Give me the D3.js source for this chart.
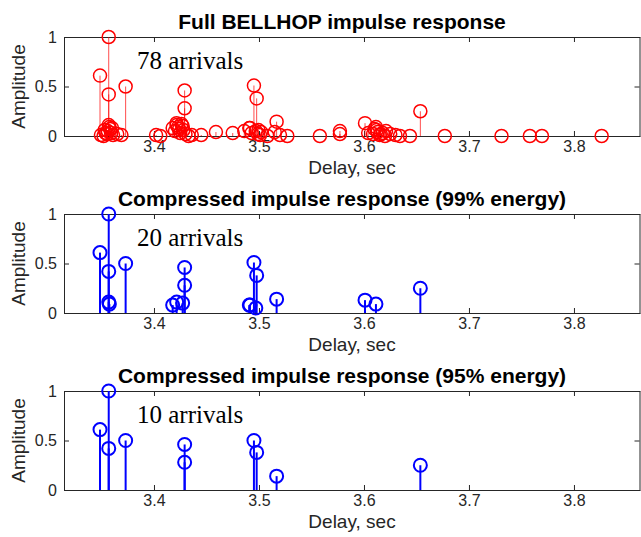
<!DOCTYPE html>
<html><head><meta charset="utf-8">
<script src="https://cdn.jsdelivr.net/npm/d3@7"></script>
<style>body{margin:0;background:#fff}svg{display:block}</style>
</head><body>
<script>
// ---- data ----
const panelTitles = ["Full BELLHOP impulse response",
  "Compressed impulse response (99% energy)",
  "Compressed impulse response (95% energy)"];
const panelNotes = ["78 arrivals", "20 arrivals", "10 arrivals"];
const xTicks = [3.4, 3.5, 3.6, 3.7, 3.8];
const yTicks = [0, 0.5, 1];
const xLabel = "Delay, sec";
const yLabel = "Amplitude";

// full response (78 arrivals): delay, amplitude
const fullDelay = [
  3.3486,3.3569,3.3569,3.3730,3.3569,3.3575,3.3582,3.3560,3.3592,3.3555,3.3495,3.3520,3.3610,3.3650,3.3690,3.3540,3.3530,3.3600,
  3.4020,3.4060,3.4178,3.4216,3.4273,3.4292,3.4292,3.4200,3.4250,3.4240,3.4300,3.4330,3.4360,3.4450,3.4590,3.4230,3.4215,3.4280,3.4262,
  3.4750,3.4860,3.4908,3.4952,3.4978,3.4914,3.4970,3.4990,3.5010,3.5080,3.5168,3.5150,3.5200,3.5270,3.4930,3.4995,3.5020,
  3.5580,3.5771,3.5771,3.6010,3.6040,3.6086,3.6114,3.6120,3.6130,3.6150,3.6180,3.6210,3.6250,3.6300,3.6343,3.6438,3.6537,3.6100,3.6200,3.6160,
  3.6770,3.7310,3.7580,3.7695,3.8264];
const fullAmp = [
  0.61,1.00,0.42,0.50,0.11,0.09,0.07,0.05,0.03,0.02,0.01,0.00,0.01,0.02,0.01,0.03,0.06,0.08,
  0.01,0.00,0.08,0.11,0.10,0.46,0.28,0.05,0.03,0.07,0.02,0.00,0.01,0.01,0.04,0.09,0.13,0.06,0.12,
  0.03,0.05,0.08,0.51,0.38,0.08,0.05,0.02,0.01,0.00,0.145,0.04,0.01,0.00,0.03,0.06,0.04,
  0.00,0.02,0.05,0.13,0.03,0.02,0.09,0.06,0.04,0.01,0.03,0.05,0.02,0.01,0.00,0.00,0.25,0.07,0.00,0.02,
  0.00,0.00,0.00,0.00,0.00];

// 99% energy (20 arrivals)
const c99Delay = [3.3486,3.3569,3.3569,3.3730,3.3569,3.3575,3.4178,3.4216,3.4273,3.4292,3.4292,
  3.4908,3.4952,3.4978,3.4914,3.4970,3.5168,3.6010,3.6114,3.6537];
const c99Amp = [0.61,1.00,0.42,0.50,0.11,0.09,0.08,0.11,0.10,0.46,0.28,
  0.08,0.51,0.38,0.08,0.05,0.14,0.13,0.09,0.25];

// 95% energy (10 arrivals)
const c95Delay = [3.3486,3.3569,3.3569,3.3730,3.4292,3.4292,3.4952,3.4978,3.5168,3.6537];
const c95Amp = [0.61,1.00,0.42,0.50,0.46,0.28,0.50,0.38,0.14,0.25];

// ---- layout ----
const W = 641, H = 537;
const left = 64, right = 640, ph = 99;
const tops = [37, 214, 391];
const font = "'Liberation Sans', Arial, Helvetica, sans-serif";
const ink = "#262626";

const svg = d3.select("body").append("svg").attr("width", W).attr("height", H);
const x = d3.scaleLinear().domain([3.3143, 3.8629]).range([left, right]);

const panels = [
  {d: fullDelay, a: fullAmp, color: "#ff0000", sw: 1, so: 0.7, cw: 1.5},
  {d: c99Delay, a: c99Amp, color: "#0000ff", sw: 2, so: 1, cw: 2},
  {d: c95Delay, a: c95Amp, color: "#0000ff", sw: 2, so: 1, cw: 2}
];

panels.forEach((p, i) => {
  const top = tops[i];
  const y = d3.scaleLinear().domain([0, 1]).range([top + ph, top]);
  const g = svg.append("g");

  // axes
  const xb = g.append("g").attr("transform", `translate(0,${top + ph})`)
    .call(d3.axisBottom(x).tickValues(xTicks).tickFormat(d3.format(".1f")).tickSizeInner(-5).tickSizeOuter(0).tickPadding(5));
  const xt = g.append("g").attr("transform", `translate(0,${top})`)
    .call(d3.axisTop(x).tickValues(xTicks).tickFormat("").tickSizeInner(-5).tickSizeOuter(0));
  const yl = g.append("g").attr("transform", `translate(${left},0)`)
    .call(d3.axisLeft(y).tickValues(yTicks).tickFormat(d3.format("")).tickSizeInner(-5).tickSizeOuter(0).tickPadding(7));
  const yr = g.append("g").attr("transform", `translate(${right - 0.5},0)`)
    .call(d3.axisRight(y).tickValues(yTicks).tickFormat("").tickSizeInner(-5).tickSizeOuter(0));
  [xb, xt, yl, yr].forEach(a => {
    a.selectAll("path.domain").attr("stroke", ink);
    a.selectAll("line").attr("stroke", ink);
    a.selectAll("text").attr("fill", ink).style("font-family", font).style("font-size", "16px");
  });

  // stems
  const idx = d3.range(p.d.length);
  g.selectAll("line.stem").data(idx).join("line").attr("class", "stem")
    .attr("x1", k => x(p.d[k])).attr("x2", k => x(p.d[k]))
    .attr("y1", y(0)).attr("y2", k => y(p.a[k]))
    .attr("stroke", p.color).attr("stroke-width", p.sw).attr("stroke-opacity", p.so);
  g.selectAll("circle.mk").data(idx).join("circle").attr("class", "mk")
    .attr("cx", k => x(p.d[k])).attr("cy", k => y(p.a[k])).attr("r", 6.5)
    .attr("fill", "none").attr("stroke", p.color).attr("stroke-width", p.cw);

  // title
  g.append("text").attr("x", 342).attr("y", top - 8)
    .attr("text-anchor", "middle").style("font-family", font).style("font-weight", "bold")
    .style("font-size", "21px").attr("fill", "#000").text(panelTitles[i]);
  // note
  g.append("text").attr("x", 137).attr("y", top + 32)
    .style("font-family", "'Liberation Serif', 'Times New Roman', serif").style("font-size", "25px")
    .attr("fill", "#000").text(panelNotes[i]);
  // labels
  g.append("text").attr("x", (left + right) / 2).attr("y", top + ph + 38)
    .attr("text-anchor", "middle").style("font-family", font).style("font-size", "19px")
    .attr("fill", ink).text(xLabel);
  g.append("text").attr("transform", `translate(25,${top + ph / 2}) rotate(-90)`)
    .attr("text-anchor", "middle").style("font-family", font).style("font-size", "19px")
    .attr("fill", ink).text(yLabel);
});
</script>
</body></html>
